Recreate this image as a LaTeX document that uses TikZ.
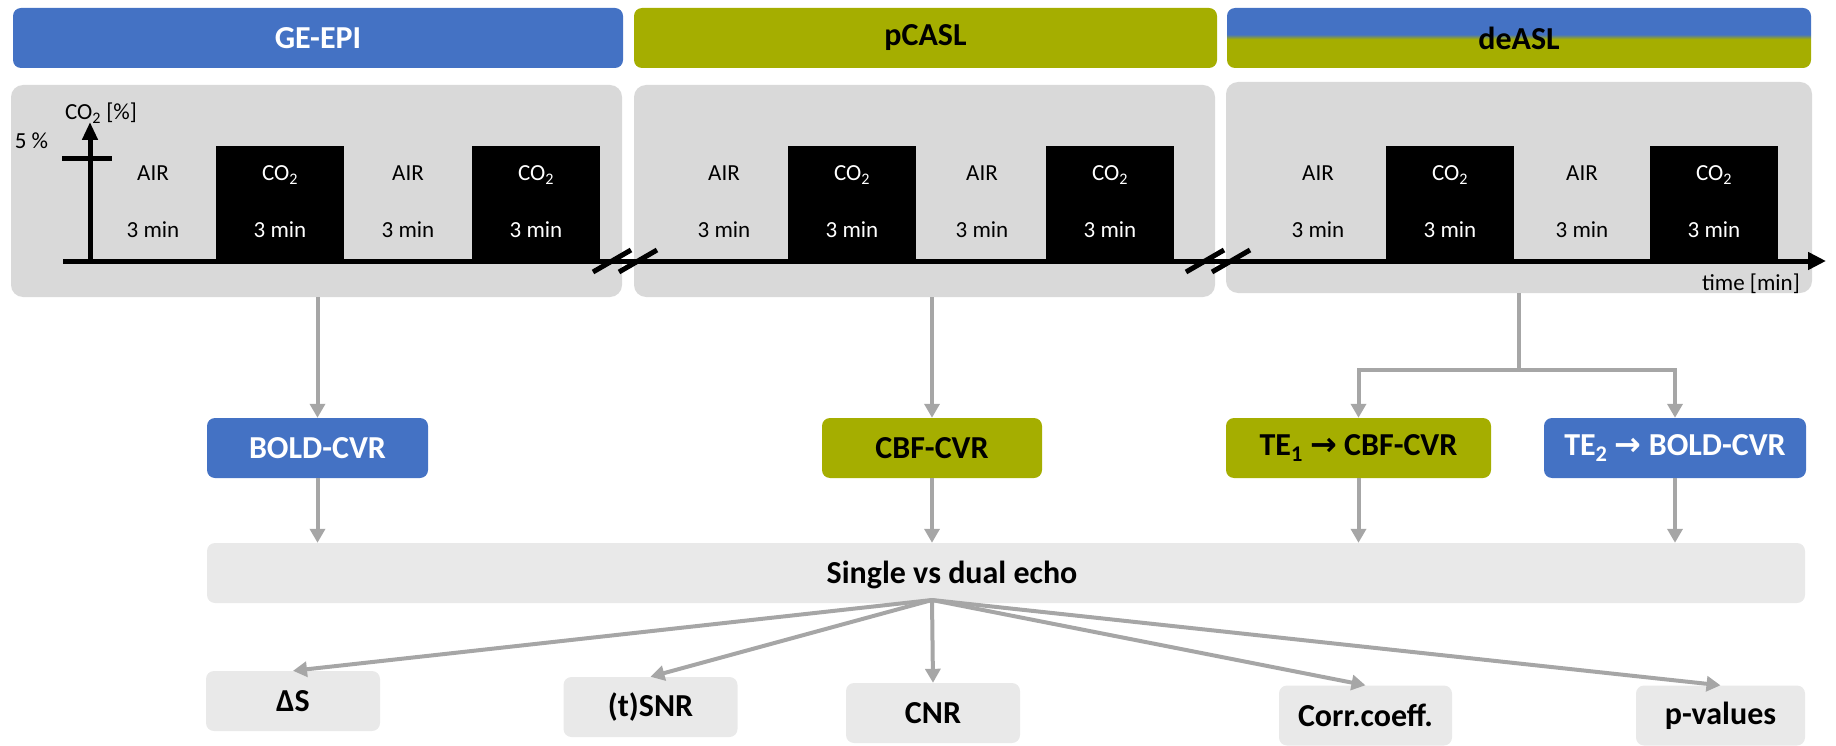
\documentclass[tikz,border=0pt]{standalone}
\usepackage{fontspec}
\setmainfont{Carlito}
\newfontfamily\arrowfont{DejaVu Sans}
\usepackage{tikz}
\usetikzlibrary{arrows.meta,positioning,calc}
\definecolor{EpiBlue}{HTML}{4472C4}
\definecolor{AslGreen}{HTML}{A5AE00}
\definecolor{PanelGrey}{HTML}{D9D9D9}
\definecolor{BoxGrey}{HTML}{E9E9E9}
\definecolor{LinkGrey}{HTML}{A6A6A6}
\pgfdeclareverticalshading{deasl}{100bp}{color(0bp)=(AslGreen); color(49bp)=(AslGreen); color(53bp)=(EpiBlue); color(100bp)=(EpiBlue)}
\newcommand{\bigtxt}{\fontsize{32}{38}\selectfont\bfseries}
\newcommand{\gastxt}{\fontsize{23}{27}\selectfont}

\begin{document}
\begin{tikzpicture}[x=1pt,y=-1pt,>=Latex,
  hdr/.style={rounded corners=8pt,minimum height=60pt,inner sep=0pt,font=\bigtxt},
  panel/.style={fill=PanelGrey,rounded corners=12pt,inner sep=0pt},
  res/.style={rounded corners=8pt,minimum height=60pt,inner sep=0pt,font=\bigtxt},
  meas/.style={fill=BoxGrey,rounded corners=8pt,minimum width=174pt,minimum height=60pt,inner sep=0pt,font=\bigtxt},
  gas/.style={anchor=base,inner sep=0pt,font=\gastxt},
  co2blk/.style={fill=black,minimum width=128pt,minimum height=115pt,inner sep=0pt},
  timeax/.style={line width=5pt},
  link/.style={draw=LinkGrey,line width=4pt,-{Triangle[length=14pt,width=15pt]}}]
\useasboundingbox (0,0) rectangle (1836,746);
% sequences
\node[hdr,fill=EpiBlue,text=white,minimum width=610pt] (epi) at (318,38) {GE-EPI};
\node[hdr,fill=AslGreen,minimum width=583pt] (pc) at (925.5,38) {pCASL};
\node[hdr,shade,shading=deasl,minimum width=584pt] (de) at (1519,38) {deASL};
% breathing paradigm
\node[panel,minimum width=611pt,minimum height=212pt] (p1) at (316.5,191) {};
\node[panel,minimum width=581pt,minimum height=212pt] (p2) at (924.5,191) {};
\node[panel,minimum width=586pt,minimum height=211pt] (p3) at (1519,187.5) {};
\foreach \a/\c in {153/280,408/536,724/852,982/1110,1318/1450,1582/1714}{
  \node[gas] (air\a) at (\a,181) {AIR};
  \node[gas] (tair\a) at (\a,237) {3 min};
  \node[co2blk] (blk\c) at (\c,203.5) {};
  \node[gas,text=white] (co\c) at (\c,181) {CO\textsubscript{2}};
  \node[gas,text=white] (tco\c) at (\c,237) {3 min};
}
\draw[timeax,-{Triangle[length=18pt,width=17pt]}] (63,261) -- (1826,261);
\draw[timeax,-{Triangle[length=18pt,width=15pt]}] (90,263) -- (90,122);
\draw[timeax] (62,159) -- (112,159);
\foreach \s in {612,638,1205,1231} \draw[timeax] (\s-19,272) -- (\s+19,250);
\node[gas] (ylab) at (101,119.5) {CO\textsubscript{2} [\%]};
\node[gas] (five) at (31.5,148.5) {5 \%};
\node[gas,anchor=base east] (tlab) at (1800,290) {time [min]};
% CVR maps
\node[res,fill=EpiBlue,text=white,minimum width=221pt] (bold) at (317.5,448) {BOLD-CVR};
\node[res,fill=AslGreen,minimum width=220pt] (cbf) at (932,448) {CBF-CVR};
\node[res,fill=AslGreen,minimum width=265pt] (te1) at (1358.5,448) {TE\textsubscript{1} {\arrowfont →} CBF-CVR};
\node[res,fill=EpiBlue,text=white,minimum width=262pt] (te2) at (1675,448) {TE\textsubscript{2} {\arrowfont →} BOLD-CVR};
% comparison
\node[meas,minimum width=1598pt] (sd) at (1006,573) {};
\node[font=\bigtxt,anchor=base,inner sep=0pt] (sdtxt) at (952,583) {Single vs dual echo};
\node[meas] (ds) at (293,701) {ΔS};
\node[meas] (snr) at (650.5,707) {(t)SNR};
\node[meas] (cnr) at (933,713) {CNR};
\node[meas,minimum width=173pt] (cc) at (1365.5,715.5) {Corr.coeff.};
\node[meas,minimum width=169pt] (pv) at (1720.5,715.5) {p-values};
\draw[link] (bold.north |- p1.south) -- (bold);\draw[link] (cbf.north |- p2.south) -- (cbf);
\coordinate (fork) at (1519,370);
\draw[link] (p3.south) -- (fork) -| (te1);\draw[link] (fork) -| (te2);
\draw[link] (bold) -- (bold |- sd.north);\draw[link] (cbf) -- (cbf |- sd.north);
\draw[link] (te1) -- (te1 |- sd.north);\draw[link] (te2) -- (te2 |- sd.north);
\coordinate (hub) at (932,600);
\foreach \m in {ds,snr,cnr,cc,pv} \draw[link] (hub) -- (\m.north);
\end{tikzpicture}
\end{document}
